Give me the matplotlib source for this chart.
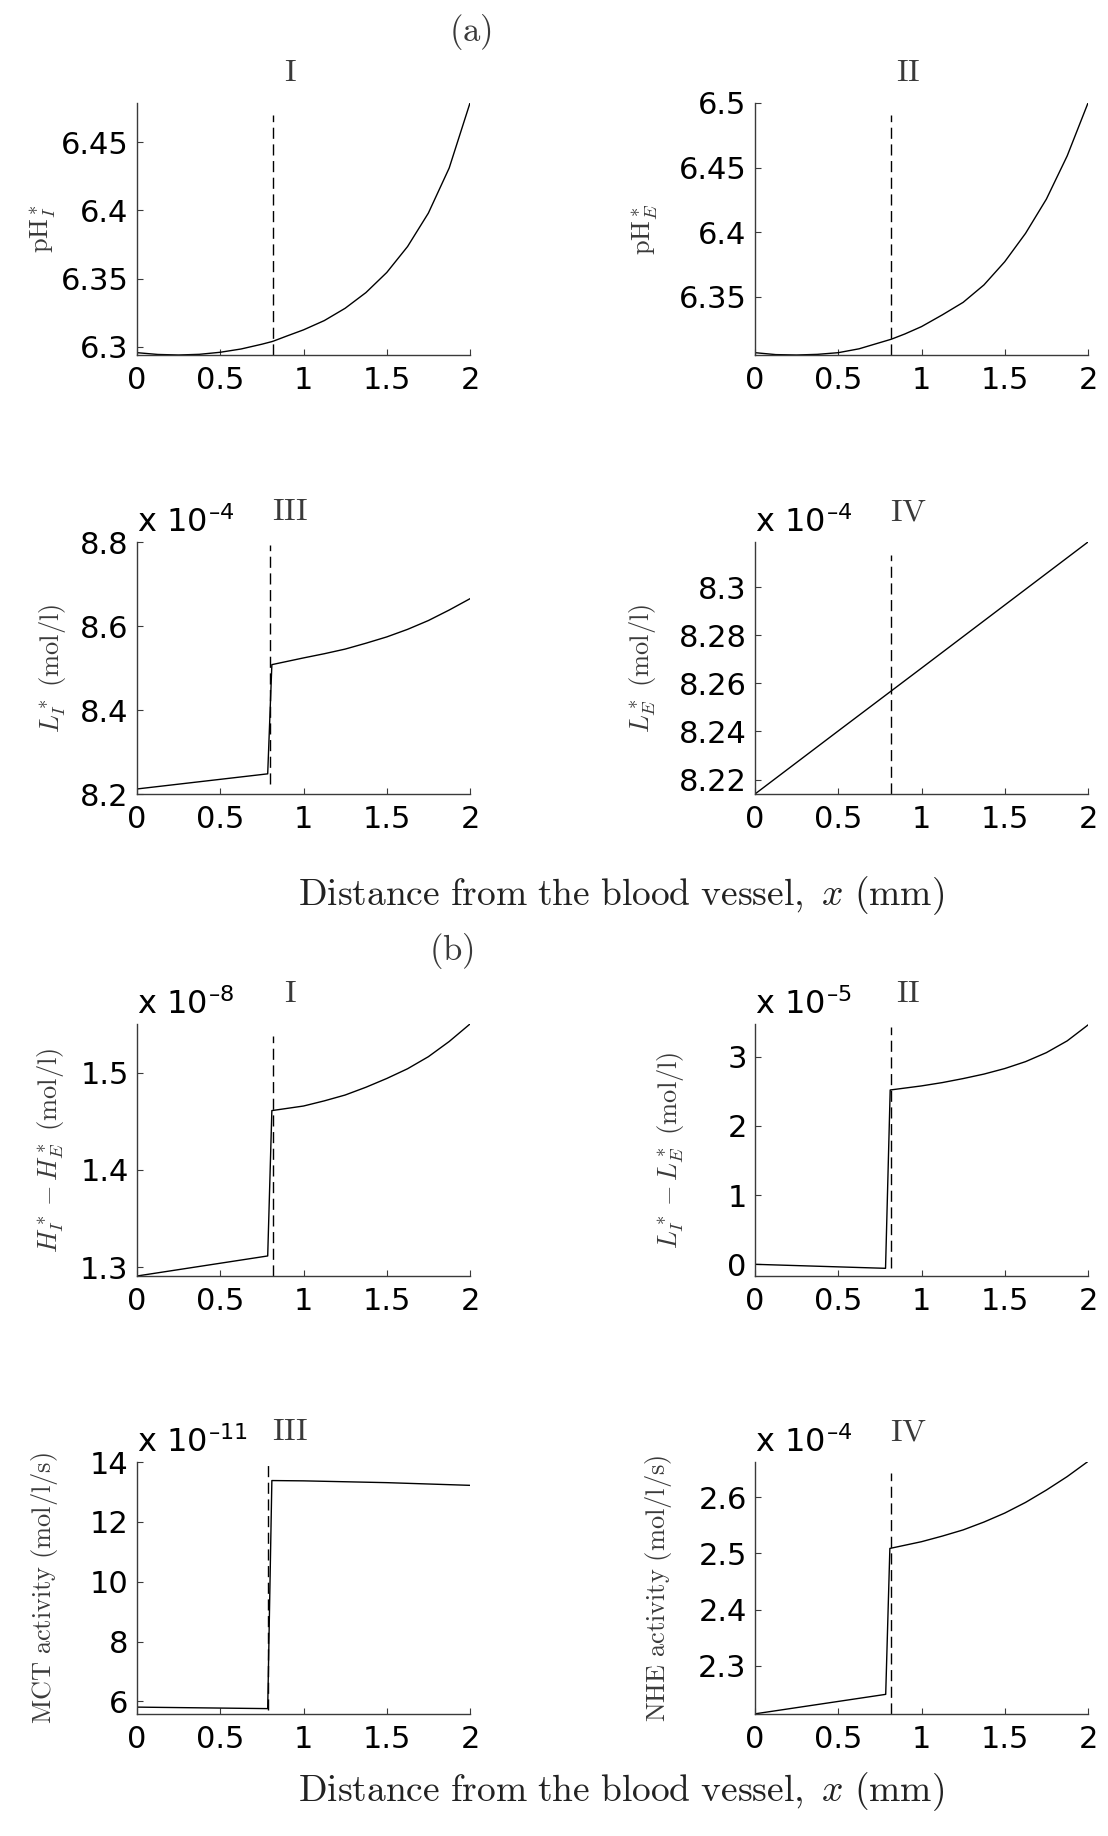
import matplotlib
matplotlib.use("Agg")
import matplotlib.pyplot as plt

plt.rcParams["mathtext.fontset"] = "cm"
plt.rcParams["font.family"] = "DejaVu Sans"

# ---- (a) I : intracellular pH
x_phi = [0, 0.125, 0.25, 0.375, 0.5, 0.625, 0.75, 0.81, 0.82, 0.9, 1.0, 1.125,
         1.25, 1.375, 1.5, 1.625, 1.75, 1.875, 2.0]
y_phi = [6.2958, 6.2945, 6.2941, 6.2946, 6.2961, 6.2985, 6.3020, 6.3039, 6.3043,
         6.3080, 6.3125, 6.3193, 6.3283, 6.3398, 6.3545, 6.3735, 6.3980, 6.4310, 6.4786]

# ---- (a) II : extracellular pH
x_phe = [0, 0.125, 0.25, 0.375, 0.5, 0.625, 0.75, 0.818, 0.9, 1.0, 1.125, 1.25,
         1.375, 1.5, 1.625, 1.75, 1.875, 2.0]
y_phe = [6.3065, 6.3050, 6.3047, 6.3052, 6.3065, 6.3095, 6.3143, 6.3169, 6.3210,
         6.3267, 6.3358, 6.3455, 6.3590, 6.3770, 6.3990, 6.4255, 6.4590, 6.5000]

# ---- (a) III : intracellular lactate (x 1e-4)
x_li = [0, 0.785, 0.81, 1.0, 1.125, 1.25, 1.375, 1.5, 1.625, 1.75, 1.875, 2.0]
y_li = [8.212, 8.248, 8.508, 8.524, 8.534, 8.545, 8.559, 8.574, 8.592, 8.613, 8.638, 8.665]

# ---- (a) IV : extracellular lactate (x 1e-4)
x_le = [0, 0.5, 1.0, 1.5, 2.0]
y_le = [8.2140, 8.2402, 8.2663, 8.2925, 8.3187]

# ---- (b) I : H_I - H_E (x 1e-8)
x_dh = [0, 0.785, 0.81, 1.0, 1.125, 1.25, 1.375, 1.5, 1.625, 1.75, 1.875, 2.0]
y_dh = [1.291, 1.3116, 1.461, 1.4657, 1.471, 1.477, 1.485, 1.494, 1.504, 1.5164, 1.532, 1.550]

# ---- (b) II : L_I - L_E (x 1e-5)
x_dl = [0, 0.784, 0.812, 1.0, 1.125, 1.25, 1.375, 1.5, 1.625, 1.75, 1.875, 2.0]
y_dl = [0.0, -0.058, 2.52, 2.579, 2.627, 2.685, 2.75, 2.83, 2.93, 3.06, 3.23, 3.46]

# ---- (b) III : MCT activity (x 1e-11)
x_mct = [0, 0.785, 0.81, 1.0, 1.5, 2.0]
y_mct = [5.81, 5.76, 13.38, 13.37, 13.31, 13.22]

# ---- (b) IV : NHE activity (x 1e-4)
x_nhe = [0, 0.785, 0.81, 1.0, 1.125, 1.25, 1.375, 1.5, 1.625, 1.75, 1.875, 2.0]
y_nhe = [2.2143, 2.249, 2.509, 2.521, 2.531, 2.542, 2.556, 2.572, 2.591, 2.613, 2.637, 2.664]

# panel settings: data, ylim, yticks, tick labels, dashed line (x, y0, y1), ylabel, roman, exponent
panels = [
    (x_phi, y_phi, (6.2941, 6.4786), [6.3, 6.35, 6.4, 6.45], ["6.3", "6.35", "6.4", "6.45"],
     (0.814, 6.2941, 6.470), r"$\mathrm{pH}^*_I$", "I", None),
    (x_phe, y_phe, (6.3047, 6.5), [6.35, 6.4, 6.45, 6.5], ["6.35", "6.4", "6.45", "6.5"],
     (0.818, 6.3047, 6.491), r"$\mathrm{pH}^*_E$", "II", None),
    (x_li, y_li, (8.2, 8.8), [8.2, 8.4, 8.6, 8.8], ["8.2", "8.4", "8.6", "8.8"],
     (0.80, 8.2245, 8.794), r"$L^*_I\ \mathrm{(mol/l)}$", "III", "-4"),
    (x_le, y_le, (8.214, 8.3187), [8.22, 8.24, 8.26, 8.28, 8.3], ["8.22", "8.24", "8.26", "8.28", "8.3"],
     (0.818, 8.214, 8.3132), r"$L^*_E\ \mathrm{(mol/l)}$", "IV", "-4"),
    (x_dh, y_dh, (1.291, 1.55), [1.3, 1.4, 1.5], ["1.3", "1.4", "1.5"],
     (0.819, 1.291, 1.5377), r"$H^*_I - H^*_E\ \mathrm{(mol/l)}$", "I", "-8"),
    (x_dl, y_dl, (-0.169, 3.474), [0, 1, 2, 3], ["0", "1", "2", "3"],
     (0.818, -0.058, 3.43), r"$L^*_I - L^*_E\ \mathrm{(mol/l)}$", "II", "-5"),
    (x_mct, y_mct, (5.58, 14), [6, 8, 10, 12, 14], ["6", "8", "10", "12", "14"],
     (0.787, 5.72, 14), r"$\mathrm{MCT\ activity\ (mol/l/s)}$", "III", "-11"),
    (x_nhe, y_nhe, (2.214, 2.663), [2.3, 2.4, 2.5, 2.6], ["2.3", "2.4", "2.5", "2.6"],
     (0.818, 2.214, 2.643), r"$\mathrm{NHE\ activity\ (mol/l/s)}$", "IV", "-4"),
]

W, H = 1108, 1836
fig = plt.figure(figsize=(W / 100, H / 100), dpi=100)

lefts = [137, 755]
tops = [103, 542, 1024, 1462]
aw, ah = 333, 252
ylabel_x = [43, 645, 52, 642, 50, 670, 45, 658]

gray = "#3a3a3a"
for i, (xs, ys, ylim, yt, ytl, dash, ylab, roman, expo) in enumerate(panels):
    row, col = divmod(i, 2)
    l, t = lefts[col], tops[row]
    ax = fig.add_axes([l / W, 1 - (t + ah) / H, aw / W, ah / H])
    ax.plot(xs, ys, color="black", lw=1.0)
    ax.plot([dash[0], dash[0]], [dash[1], dash[2]], color="black", lw=1.0,
            linestyle=(0, (8, 4)))
    ax.set_xlim(0, 2)
    ax.set_ylim(*ylim)
    ax.set_xticks([0, 0.5, 1, 1.5, 2])
    ax.set_xticklabels(["0", "0.5", "1", "1.5", "2"])
    ax.set_yticks(yt)
    ax.set_yticklabels(ytl)
    for s in ["top", "right"]:
        ax.spines[s].set_visible(False)
    for s in ["left", "bottom"]:
        ax.spines[s].set_color(gray)
        ax.spines[s].set_linewidth(1.0)
    ax.tick_params(direction="in", length=4, width=0.8, color=gray,
                   labelsize=22, labelcolor="black")
    ax.tick_params(axis="x", pad=8)
    ax.tick_params(axis="y", pad=6)
    ax.text(0.46, 1.12, r"$\mathrm{%s}$" % roman, transform=ax.transAxes,
            ha="center", va="center", fontsize=23, color=gray)
    if expo is not None:
        ax.text(0.0, 1.012, r"x 10$^{\mathregular{%s}}$" % expo.replace("-", "\u2013"),
                transform=ax.transAxes, ha="left", va="bottom", fontsize=23)
    fig.text(ylabel_x[i] / W, 1 - (t + ah / 2) / H, ylab, rotation=90,
             ha="center", va="center", fontsize=19, color=gray)

fig.text(470 / W, 1 - 32 / H, r"$\mathrm{(a)}$", ha="center", va="center",
         fontsize=25, color=gray)
fig.text(451 / W, 1 - 951 / H, r"$\mathrm{(b)}$", ha="center", va="center",
         fontsize=25, color=gray)
xlab = r"$\mathrm{Distance\ from\ the\ blood\ vessel,}\ x\ \mathrm{(mm)}$"
fig.text(621 / W, 1 - 896 / H, xlab, ha="center", va="center", fontsize=27, color="#222222")
fig.text(621 / W, 1 - 1792 / H, xlab, ha="center", va="center", fontsize=27, color="#222222")

fig.savefig("out.png", dpi=100)
